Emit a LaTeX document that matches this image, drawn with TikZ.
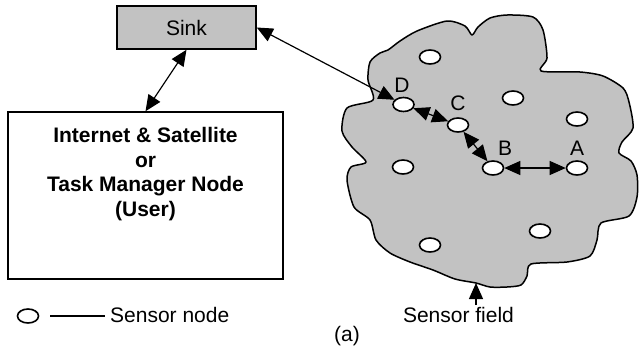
\documentclass[tikz,border=0pt]{standalone}
\usepackage{fontspec}
\setmainfont{Liberation Sans}
\usetikzlibrary{arrows.meta,shapes.geometric}
\definecolor{fieldgray}{RGB}{194,194,194}
\tikzset{
  txt/.style={font=\fontsize{21}{24.5}\selectfont, inner sep=0pt},
  boldtxt/.style={font=\fontsize{21}{24.5}\selectfont\bfseries, align=center, inner sep=0pt},
  sensor/.style={ellipse, draw, fill=white, line width=1.6pt, minimum width=21pt, minimum height=14pt, inner sep=0pt},
  graybox/.style={rectangle, draw, fill=fieldgray, line width=1.5pt, minimum width=139pt, minimum height=43pt, inner sep=0pt, font=\fontsize{21}{24.5}\selectfont},
  whitebox/.style={rectangle, draw, line width=1.5pt, minimum width=275pt, minimum height=167pt, inner sep=0pt},
  bighead/.tip={Triangle[length=16pt,width=14pt]},
  biarrow/.style={line width=1.2pt, bighead-bighead},
  onearrow/.style={line width=1.2pt, -bighead},
  fieldline/.style={draw, fill=fieldgray, line width=1.5pt, line join=round}
}
\begin{document}
\begin{tikzpicture}[x=1pt,y=-1pt]
\path[use as bounding box] (0,0) rectangle (639,354);

% sensor field
\path[fieldline] plot[smooth cycle, tension=0.45] coordinates {
 (347,108) (373,100) (368,80) (370,62) (380,53) (388,50) (400,41) (417,31) (447,21)
 (465,26) (472,35) (478,27) (490,18) (507,15) (533,17) (543,30) (547,58) (541,71)
 (580,72) (603,76) (623,88) (629,102) (633,128) (622,142) (619,153) (631,161) (637,175)
 (637,197) (629,216) (601,223) (597,240) (590,256) (567,262) (531,264) (527,276) (521,285)
 (507,287) (490,287) (476,283) (455,279) (433,270) (410,262) (390,253) (376,240) (370,220)
 (354,207) (347,180) (351,167) (366,162) (352,147) (342,131)
};

% sink and user box
\node[graybox] (sink) at (186.5,27.5) {Sink};
\node[whitebox] (box) at (145.5,195.5) {};
\node[boldtxt, anchor=north] (boxtext) at (145.5,127.5)
  {Internet \& Satellite\\or\\Task Manager Node\\(User)};

% sensor nodes
\node[sensor] (n1) at (430,57) {};
\node[sensor] (D) at (403.5,104.5) {};
\node[sensor] (C) at (458,125) {};
\node[sensor] (n2) at (513,98) {};
\node[sensor] (n3) at (577,119) {};
\node[sensor] (B) at (493,168) {};
\node[sensor] (A) at (577,168) {};
\node[sensor] (n4) at (403,167) {};
\node[sensor] (n5) at (540,231) {};
\node[sensor] (n6) at (430,245) {};

% labels
\node[txt] (lD) at (402,85) {D};
\node[txt] (lC) at (458,103) {C};
\node[txt] (lB) at (505,148) {B};
\node[txt] (lA) at (577,148) {A};

% connectors
\draw[biarrow] (sink.south) -- (box.north);
\draw[biarrow] (sink.east) -- (D);
\draw[biarrow] (D) -- (C);
\draw[biarrow] (C) -- (B);
\draw[biarrow] (B) -- (A);

% sensor field label
\coordinate (fieldtip) at (476,283);
\node[txt, anchor=base] (sfield) at (458.5,322) {Sensor field};
\draw[onearrow] (fieldtip |- 0,305) coordinate (sfbase) -- (fieldtip);

% legend
\node[sensor] (leg) at (28,316) {};
\node[txt, anchor=base west, inner xsep=5pt] (legtext) at (105,322) {Sensor node};
\draw[line width=1.2pt] ([xshift=11pt]leg.east) -- (legtext.west |- leg);

% caption
\node[txt, anchor=base] (cap) at (347,341) {(a)};
\end{tikzpicture}
\end{document}
